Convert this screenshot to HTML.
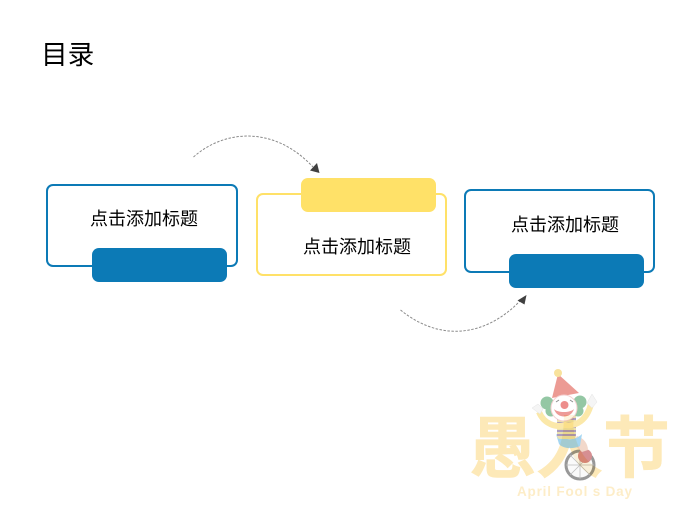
<!DOCTYPE html>
<html>
<head>
<meta charset="utf-8">
<style>
html,body{margin:0;padding:0;background:#fff}
body{width:690px;height:516px;position:relative;overflow:hidden;font-family:"Liberation Sans","Noto Sans CJK SC",sans-serif;color:#000}
.box{position:absolute;box-sizing:border-box;width:191px;height:83px;border-radius:7px;background:#fff}
.blue{border:2px solid #0c7ab6}
.yellow{border:2px solid #ffe168}
.pill{position:absolute;width:135px;height:34px;border-radius:7px}
.t{position:absolute;font-size:18px;line-height:24px;white-space:nowrap}
svg{position:absolute;left:0;top:0}
</style>
</head>
<body>
<div class="t" style="left:41px;top:37px;font-size:26.67px;line-height:36px">目录</div>

<div class="box blue" style="left:46px;top:184px;width:192px"></div>
<div class="pill" style="left:92px;top:248px;background:#0c7ab6"></div>
<div class="t" style="left:90px;top:207px">点击添加标题</div>

<div class="box yellow" style="left:256px;top:193px"></div>
<div class="pill" style="left:301px;top:178px;background:#ffe168"></div>
<div class="t" style="left:303px;top:235px">点击添加标题</div>

<div class="box blue" style="left:464px;top:189px;height:84px"></div>
<div class="pill" style="left:509px;top:254px;background:#0c7ab6"></div>
<div class="t" style="left:511px;top:213px">点击添加标题</div>

<svg width="690" height="516" viewBox="0 0 690 516" xmlns="http://www.w3.org/2000/svg">
  <path d="M193.500 157 C225 129 275 126 313 167" fill="none" stroke="#8a8a8a" stroke-width="1" stroke-dasharray="2.500 1.500"/>
  <polygon points="319.500,173 310,170.500 317,163" fill="#404040"/>
  <path d="M400.500 310 C440 342 485 337 520 301" fill="none" stroke="#8a8a8a" stroke-width="1" stroke-dasharray="2.500 1.500"/>
  <polygon points="526.500,295 524.500,304.500 517.500,300.500" fill="#404040"/>

  <g>
    <text x="469" y="472" font-family="Noto Sans CJK SC, sans-serif" font-size="67" font-weight="700" fill="#fde9b8" stroke="#fde9b8" stroke-width="0.500">愚人节</text>
    <text x="517" y="496" font-family="Liberation Sans, sans-serif" font-size="13.500" font-weight="700" fill="#fdedc8" textLength="115">April Fool s Day</text>
  </g>

  <g opacity="0.55">
    <circle cx="580" cy="465" r="14" fill="#f6f6f6" stroke="#444" stroke-width="3"/>
    <path d="M580 451V479M566 465H594M570 455L590 475M590 455L570 475" stroke="#888" stroke-width="0.800"/>
    <circle cx="585" cy="456" r="7" fill="#b5343a"/>
    <path d="M577 436C584 438 588 444 588 450L582 452C579 449 575 446 571 444Z" fill="#e8b9a0"/>
    <path d="M556 434C565 441 575 441 582 434L580 446C572 450 562 448 559 444Z" fill="#5ab4e6"/>
    <rect x="557" y="414" width="19" height="25" rx="3" fill="#d9c86a"/>
    <path d="M557 419H576M557 423H576M557 427H576M557 431H576M557 435H576" stroke="#6a4c8c" stroke-width="2"/>
    <path d="M539 412C544 424 556 428 565 425C576 427 587 420 591 404" fill="none" stroke="#f8d763" stroke-width="6"/>
    <path d="M532 408L538 404L543 409L540 414Z" fill="#eee" stroke="#ccc" stroke-width="0.500"/>
    <path d="M587 403L592 394L597 402L592 408Z" fill="#eee" stroke="#ccc" stroke-width="0.500"/>
    <circle cx="547" cy="403" r="6.500" fill="#3d9a5a"/>
    <circle cx="551" cy="411" r="5.500" fill="#3d9a5a"/>
    <circle cx="580" cy="402" r="6.500" fill="#3d9a5a"/>
    <circle cx="578" cy="411" r="5.500" fill="#3d9a5a"/>
    <polygon points="558,374 552,398 579,393" fill="#dd4b3e"/>
    <circle cx="558" cy="373" r="4" fill="#f3cb4c"/>
    <circle cx="564" cy="408" r="13" fill="#fff" stroke="#eaa" stroke-width="1"/>
    <path d="M554 409C557 419 571 419 574 409C570 413 558 413 554 409Z" fill="#e04a44"/>
    <circle cx="564.500" cy="405" r="4" fill="#e0322f"/>
    <path d="M556 402L559 400M570 400L573 402" stroke="#333" stroke-width="1"/>
  </g>
</svg>
</body>
</html>
